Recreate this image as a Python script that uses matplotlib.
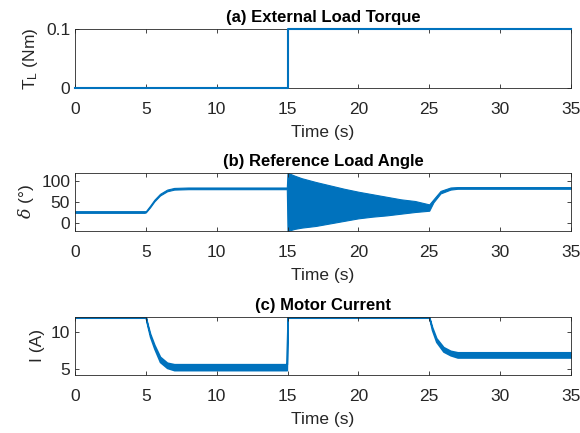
import matplotlib
matplotlib.use('Agg')
import matplotlib.pyplot as plt

plt.rcParams['font.family'] = ['Liberation Sans', 'DejaVu Sans']
plt.rcParams['mathtext.fontset'] = 'custom'
plt.rcParams['mathtext.rm'] = 'Liberation Sans'
plt.rcParams['mathtext.it'] = 'DejaVu Serif:italic'
plt.rcParams['font.size'] = 10.5

blue = '#0072BD'
frame = '#262626'

# (a) load torque
t_torque = [0, 15, 15, 35]
torque = [0, 0, 0.1, 0.1]

# (b) load angle: lower / upper envelope of the trace
t_angle = [0, 4.9, 5.0, 5.3, 5.6, 6.0, 6.5, 7.0, 8.0, 14.95,
           15.0, 15.5, 16, 17, 18, 19, 20, 21, 22, 23, 24, 25.0,
           25.3, 25.8, 26.5, 27, 35]
angle_lo = [25, 25, 26, 38, 52, 66, 76, 80, 81, 81,
            -18, -13, -10, -6, 0, 6, 12, 16, 19, 23, 27, 30,
            50, 71, 80, 82, 82]
angle_hi = [29, 29, 29, 42, 56, 70, 80, 84, 85, 85,
            120, 113, 107, 98, 90, 82, 75, 69, 63, 57, 53, 45,
            57, 77, 85, 86, 86]

# (c) motor current: lower / upper envelope
t_cur = [0, 5.0, 5.1, 5.3, 5.6, 6.0, 6.5, 7.0, 14.95, 15.0,
         25.0, 25.2, 25.5, 26.0, 26.5, 27, 35]
cur_lo = [11.95, 11.95, 11.0, 9.4, 7.8, 6.0, 5.2, 4.9, 4.9, 11.95,
          11.95, 10.3, 8.7, 7.4, 6.9, 6.6, 6.6]
cur_hi = [12.0, 12.0, 11.2, 9.8, 8.3, 6.7, 5.9, 5.7, 5.7, 12.0,
          12.0, 10.7, 9.2, 8.0, 7.5, 7.3, 7.3]

xticks = [0, 5, 10, 15, 20, 25, 30, 35]

fig = plt.figure(figsize=(5.8, 4.33), dpi=100)
rects = [[0.1293, 0.7975, 0.855, 0.1349],
         [0.1293, 0.4665, 0.855, 0.1346],
         [0.1293, 0.134, 0.855, 0.134]]
axes = [fig.add_axes(r) for r in rects]


def style(ax):
    ax.set_xlim(0, 35)
    ax.set_xticks(xticks)
    ax.tick_params(direction='in', top=True, right=True, length=3,
                   width=0.6, colors=frame, labelcolor=frame, labelsize=12.5)
    ax.tick_params(axis='x', pad=10)
    for s in ax.spines.values():
        s.set_color(frame)
        s.set_linewidth(0.6)
    ax.set_xlabel('Time (s)', fontsize=12.5, color=frame, labelpad=6)


ax = axes[0]
ax.plot(t_torque, torque, color=blue, lw=1.5, clip_on=False, zorder=3)
ax.set_ylim(0, 0.1)
ax.set_yticks([0, 0.1])
ax.set_yticklabels(['0', '0.1'])
style(ax)
ax.set_ylabel('T$_{\\mathregular{L}}$ (Nm)', fontsize=12.5, color=frame)
ax.set_title('(a) External Load Torque', fontsize=12, fontweight='bold', pad=5)

ax = axes[1]
ax.fill_between(t_angle, angle_lo, angle_hi, color=blue, lw=0.8, edgecolor=blue)
ax.set_ylim(-18, 120)
ax.set_yticks([0, 50, 100])
style(ax)
ax.set_ylabel('$\\delta$ (°)', fontsize=12.5, color=frame)
ax.set_title('(b) Reference Load Angle', fontsize=12, fontweight='bold', pad=5)

ax = axes[2]
ax.fill_between(t_cur, cur_lo, cur_hi, color=blue, lw=1.2, edgecolor=blue)
ax.set_ylim(4.25, 12.05)
ax.set_yticks([5, 10])
style(ax)
ax.set_ylabel('I (A)', fontsize=12.5, color=frame)
ax.set_title('(c) Motor Current', fontsize=12, fontweight='bold', pad=5)

fig.savefig('out.png', dpi=100)
